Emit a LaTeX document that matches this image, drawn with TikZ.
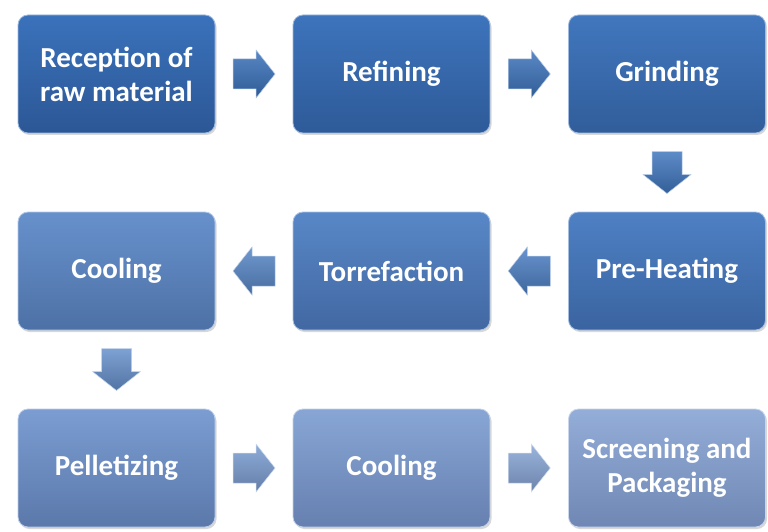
\documentclass[tikz,border=0pt]{standalone}
\usepackage{fontspec}
\setmainfont{Carlito}
\usetikzlibrary{calc,shadows}
\tikzset{
  box/.style 2 args={rounded corners=10pt, minimum width=197pt, minimum height=118pt,
    inner sep=4pt, align=center, text=white, font=\bfseries\fontsize{29}{34}\selectfont,
    draw=white!50!#1, line width=0.8pt, shading=axis, top color=#1, bottom color=#2,
    drop shadow={opacity=0.3, shadow xshift=1.5pt, shadow yshift=-2pt}},
  rarrow/.pic={\path[shading=axis, top color=#1!85!white, bottom color=#1!80!black, draw=white!60!#1, line width=0.5pt]
    (-21,-15) -- (2,-15) -- (2,-24) -- (21,0) -- (2,24) -- (2,15) -- (-21,15) -- cycle;},
}
\definecolor{t1}{HTML}{3A72BB}\definecolor{b1}{HTML}{2C5796}
\definecolor{t2}{HTML}{3D74BC}\definecolor{b2}{HTML}{2E5A98}
\definecolor{t3}{HTML}{4177BE}\definecolor{b3}{HTML}{315D9A}
\definecolor{t4}{HTML}{4E80C4}\definecolor{b4}{HTML}{3A64A0}
\definecolor{t5}{HTML}{5887C7}\definecolor{b5}{HTML}{4268A2}
\definecolor{t6}{HTML}{6791CC}\definecolor{b6}{HTML}{4D71A6}
\definecolor{t7}{HTML}{7B9DD2}\definecolor{b7}{HTML}{5B78AA}
\definecolor{t8}{HTML}{88A6D5}\definecolor{b8}{HTML}{6680B0}
\definecolor{t9}{HTML}{93AED8}\definecolor{b9}{HTML}{7087B4}
\begin{document}
\begin{tikzpicture}[x=1pt,y=-1pt]
\useasboundingbox[fill=white] (0,0) rectangle (768,532);
\node[box={t1}{b1}] (n1) at (116.5,74) {Reception of\\raw material};
\node[box={t2}{b2}] (n2) at (391.5,74) {Refining};
\node[box={t3}{b3}] (n3) at (667,74) {Grinding};
\node[box={t4}{b4}] (n4) at (667,271) {Pre-Heating};
\node[box={t5}{b5}] (n5) at (391.5,271) {Torrefaction};
\node[box={t6}{b6}] (n6) at (116.5,271) {Cooling};
\node[box={t7}{b7}] (n7) at (116.5,468) {Pelletizing};
\node[box={t8}{b8}] (n8) at (391.5,468) {Cooling};
\node[box={t9}{b9}] (n9) at (667,468) {Screening and\\Packaging};
\coordinate (a12) at ($(n1.east)!0.5!(n2.west)$);
\coordinate (a23) at ($(n2.east)!0.5!(n3.west)$);
\coordinate (a34) at ($(n3.south)!0.5!(n4.north)$);
\coordinate (a45) at ($(n4.west)!0.5!(n5.east)$);
\coordinate (a56) at ($(n5.west)!0.5!(n6.east)$);
\coordinate (a67) at ($(n6.south)!0.5!(n7.north)$);
\coordinate (a78) at ($(n7.east)!0.5!(n8.west)$);
\coordinate (a89) at ($(n8.east)!0.5!(n9.west)$);
\pic at (a12) {rarrow=t1};
\pic at (a23) {rarrow=t2};
\pic[rotate=-90] at (a34) {rarrow=t3};
\pic[rotate=180] at (a45) {rarrow=t4};
\pic[rotate=180] at (a56) {rarrow=t5};
\pic[rotate=-90] at (a67) {rarrow=t6};
\pic at (a78) {rarrow=t7};
\pic at (a89) {rarrow=t8};
\end{tikzpicture}
\end{document}
